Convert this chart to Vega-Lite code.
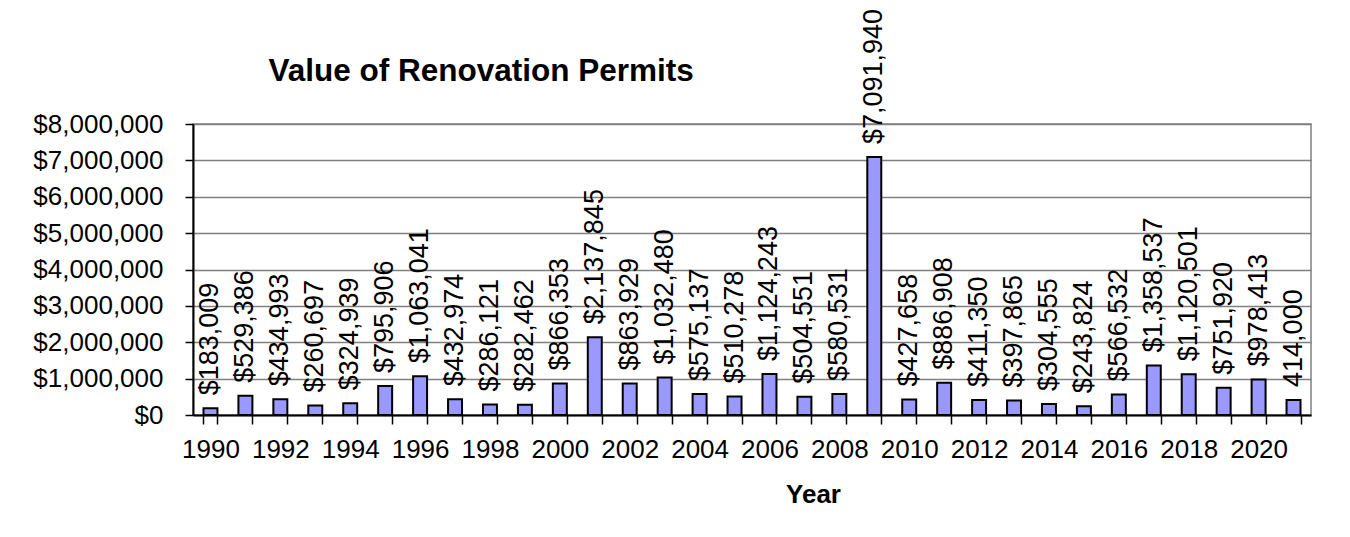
{
  "$schema": "https://vega.github.io/schema/vega-lite/v6.json",
  "width": 1118,
  "height": 291,
  "autosize": "none",
  "padding": {"left": 193, "top": 124, "right": 39, "bottom": 122},
  "background": "white",
  "config": {
    "font": "Liberation Sans",
    "view": {"stroke": "#808080", "strokeWidth": 1.5},
    "axis": {"labelColor": "black", "titleColor": "black", "labelFont": "Liberation Sans", "titleFont": "Liberation Sans"}
  },
  "data": {"values": [
    {"year": 1990, "value": 183009, "label": "$183,009"},
    {"year": 1991, "value": 529386, "label": "$529,386"},
    {"year": 1992, "value": 434993, "label": "$434,993"},
    {"year": 1993, "value": 260697, "label": "$260,697"},
    {"year": 1994, "value": 324939, "label": "$324,939"},
    {"year": 1995, "value": 795906, "label": "$795,906"},
    {"year": 1996, "value": 1063041, "label": "$1,063,041"},
    {"year": 1997, "value": 432974, "label": "$432,974"},
    {"year": 1998, "value": 286121, "label": "$286,121"},
    {"year": 1999, "value": 282462, "label": "$282,462"},
    {"year": 2000, "value": 866353, "label": "$866,353"},
    {"year": 2001, "value": 2137845, "label": "$2,137,845"},
    {"year": 2002, "value": 863929, "label": "$863,929"},
    {"year": 2003, "value": 1032480, "label": "$1,032,480"},
    {"year": 2004, "value": 575137, "label": "$575,137"},
    {"year": 2005, "value": 510278, "label": "$510,278"},
    {"year": 2006, "value": 1124243, "label": "$1,124,243"},
    {"year": 2007, "value": 504551, "label": "$504,551"},
    {"year": 2008, "value": 580531, "label": "$580,531"},
    {"year": 2009, "value": 7091940, "label": "$7,091,940"},
    {"year": 2010, "value": 427658, "label": "$427,658"},
    {"year": 2011, "value": 886908, "label": "$886,908"},
    {"year": 2012, "value": 411350, "label": "$411,350"},
    {"year": 2013, "value": 397865, "label": "$397,865"},
    {"year": 2014, "value": 304555, "label": "$304,555"},
    {"year": 2015, "value": 243824, "label": "$243,824"},
    {"year": 2016, "value": 566532, "label": "$566,532"},
    {"year": 2017, "value": 1358537, "label": "$1,358,537"},
    {"year": 2018, "value": 1120501, "label": "$1,120,501"},
    {"year": 2019, "value": 751920, "label": "$751,920"},
    {"year": 2020, "value": 978413, "label": "$978,413"},
    {"year": 2021, "value": 414000, "label": "414,000"}
  ]},
  "encoding": {
    "x": {
      "field": "year", "type": "ordinal",
      "scale": {"paddingInner": 0.6, "paddingOuter": 0.3},
      "axis": {
        "title": "Year",
        "titleFontSize": 26, "titleFontWeight": "bold",
        "titleX": 620, "titleY": 87, "titleBaseline": "alphabetic", "titleAnchor": "start", "titleAlign": "center",
        "labelAngle": 0, "labelFontSize": 26, "labelPadding": 12,
        "labelExpr": "datum.value % 2 == 0 ? datum.label : ''",
        "tickBand": "extent", "tickSize": 9, "tickColor": "black", "tickWidth": 1.5,
        "domainColor": "black", "domainWidth": 2,
        "grid": false
      }
    },
    "y": {
      "field": "value", "type": "quantitative",
      "scale": {"domain": [0, 8000000], "nice": false},
      "axis": {
        "title": "Value of Renovation Permits",
        "titleAngle": 0, "titleX": 75, "titleY": -44, "titleAlign": "left", "titleAnchor": "start",
        "titleBaseline": "alphabetic", "titleFontSize": 31.5, "titleFontWeight": "bold",
        "values": [0, 1000000, 2000000, 3000000, 4000000, 5000000, 6000000, 7000000, 8000000],
        "format": "$,.0f",
        "labelFontSize": 26, "labelPadding": 22,
        "tickSize": 8, "tickColor": "black", "tickWidth": 1.5,
        "domainColor": "black", "domainWidth": 2,
        "grid": true, "gridColor": "#808080", "gridWidth": 1.5
      }
    }
  },
  "layer": [
    {"mark": {"type": "bar", "fill": "#9999FF", "stroke": "black", "strokeWidth": 2}},
    {
      "mark": {"type": "text", "angle": 270, "align": "left", "baseline": "middle", "dx": 13, "fontSize": 27, "font": "Liberation Sans", "color": "black"},
      "encoding": {"text": {"field": "label"}}
    }
  ]
}
